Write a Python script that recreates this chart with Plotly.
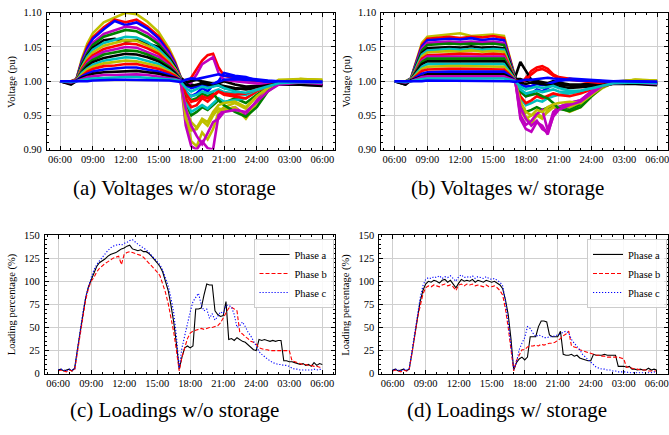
import plotly.graph_objects as go

W, H = 669, 435

# ---------------- data ----------------
tick_hours = [6, 9, 12, 15, 18, 21, 24, 27, 30]
tick_text = ["06:00", "09:00", "12:00", "15:00", "18:00", "21:00", "24:00", "03:00", "06:00"]

# voltage sample times (hours after midnight of day 1)
v_hours = [6, 7, 7.5, 8, 8.5, 9, 10, 11, 12, 13, 14, 15, 16, 16.5, 17,
           17.5, 18, 18.5, 19, 19.5, 20, 20.5, 21, 22, 23, 24, 25, 26, 28, 30]

# (a) voltages without storage (pu)
va01 = [1.000, 1.000, 1.003, 1.033, 1.055, 1.070, 1.086, 1.093, 1.100, 1.098, 1.087, 1.072, 1.047, 1.030, 1.008,
        0.950, 0.912, 0.905, 0.925, 0.915, 0.930, 0.955, 0.962, 0.968, 0.960, 0.978, 0.992, 1.002, 1.003, 1.001]
va02 = [1.000, 1.000, 1.003, 1.030, 1.051, 1.064, 1.079, 1.090, 1.086, 1.090, 1.080, 1.066, 1.043, 1.028, 1.007,
        0.995, 1.005, 1.018, 1.030, 1.038, 1.040, 1.020, 1.008, 1.004, 1.002, 1.000, 0.998, 0.999, 1.000, 0.998]
va03 = [1.000, 0.999, 1.003, 1.029, 1.048, 1.062, 1.076, 1.088, 1.082, 1.086, 1.077, 1.063, 1.041, 1.026, 1.007,
        0.985, 0.978, 0.982, 0.990, 0.985, 0.995, 1.000, 1.012, 1.008, 1.006, 1.001, 0.998, 0.999, 1.000, 0.999]
va04 = [1.000, 0.998, 1.002, 1.026, 1.044, 1.056, 1.069, 1.074, 1.080, 1.078, 1.070, 1.058, 1.038, 1.024, 1.006,
        0.935, 0.905, 0.900, 0.912, 0.902, 0.900, 0.950, 0.958, 0.962, 0.950, 0.972, 0.990, 0.995, 0.997, 0.995]
va05 = [1.000, 0.999, 1.002, 1.025, 1.041, 1.053, 1.065, 1.070, 1.075, 1.073, 1.065, 1.054, 1.035, 1.022, 1.006,
        0.965, 0.950, 0.955, 0.962, 0.958, 0.965, 0.972, 0.968, 0.975, 0.968, 0.980, 0.992, 0.998, 1.000, 0.999]
va06 = [1.000, 0.996, 1.002, 1.023, 1.038, 1.049, 1.060, 1.062, 1.058, 1.060, 1.055, 1.050, 1.033, 1.021, 1.005,
        1.000, 0.995, 0.993, 0.998, 0.995, 0.993, 0.997, 1.000, 0.995, 0.992, 0.993, 0.995, 0.996, 0.995, 0.993]
va07 = [1.000, 0.999, 1.002, 1.021, 1.036, 1.046, 1.056, 1.060, 1.065, 1.064, 1.057, 1.047, 1.031, 1.019, 1.005,
        0.970, 0.955, 0.960, 0.965, 0.960, 0.968, 0.975, 0.970, 0.972, 0.975, 0.985, 0.993, 0.997, 0.999, 0.998]
va08 = [1.000, 0.998, 1.002, 1.020, 1.033, 1.042, 1.052, 1.056, 1.060, 1.059, 1.052, 1.043, 1.028, 1.018, 1.005,
        0.945, 0.928, 0.930, 0.942, 0.935, 0.950, 0.960, 0.958, 0.962, 0.945, 0.968, 0.988, 0.998, 1.003, 1.002]
va09 = [1.000, 0.999, 1.002, 1.018, 1.030, 1.038, 1.047, 1.051, 1.055, 1.054, 1.048, 1.040, 1.026, 1.016, 1.004,
        0.975, 0.962, 0.965, 0.975, 0.970, 0.978, 0.985, 0.980, 0.978, 0.975, 0.985, 0.993, 0.997, 0.999, 0.998]
va10 = [1.000, 0.997, 1.001, 1.016, 1.027, 1.035, 1.043, 1.046, 1.050, 1.049, 1.043, 1.036, 1.023, 1.015, 1.004,
        0.990, 0.998, 1.010, 1.025, 1.030, 1.035, 1.012, 1.002, 1.000, 0.998, 0.996, 0.995, 0.996, 0.997, 0.996]
va11 = [1.000, 0.999, 1.001, 1.015, 1.025, 1.031, 1.039, 1.042, 1.045, 1.044, 1.039, 1.032, 1.021, 1.013, 1.004,
        0.980, 0.972, 0.975, 0.982, 0.978, 0.982, 0.972, 0.965, 0.955, 0.948, 0.962, 0.985, 0.997, 1.000, 0.999]
va12 = [1.000, 0.998, 1.001, 1.013, 1.022, 1.028, 1.034, 1.037, 1.040, 1.039, 1.035, 1.029, 1.019, 1.012, 1.003,
        0.998, 1.000, 1.002, 1.000, 0.998, 0.996, 0.995, 0.993, 0.990, 0.988, 0.990, 0.993, 0.995, 0.996, 0.994]
va13 = [1.000, 0.999, 1.001, 1.012, 1.019, 1.024, 1.030, 1.033, 1.035, 1.034, 1.030, 1.025, 1.016, 1.010, 1.003,
        0.985, 0.978, 0.980, 0.985, 0.982, 0.985, 0.988, 0.984, 0.982, 0.980, 0.987, 0.993, 0.997, 0.999, 0.998]
va14 = [1.000, 0.998, 1.001, 1.010, 1.017, 1.021, 1.026, 1.028, 1.030, 1.029, 1.026, 1.022, 1.014, 1.009, 1.002,
        0.960, 0.940, 0.932, 0.945, 0.940, 0.955, 0.965, 0.968, 0.970, 0.962, 0.978, 0.990, 0.998, 1.003, 1.002]
va15 = [1.000, 0.999, 1.001, 1.008, 1.014, 1.018, 1.022, 1.023, 1.025, 1.025, 1.022, 1.018, 1.012, 1.008, 1.002,
        0.982, 0.970, 0.972, 0.978, 0.975, 0.980, 0.985, 0.982, 0.980, 0.982, 0.988, 0.994, 0.997, 0.999, 0.998]
va16 = [1.000, 0.997, 1.001, 1.007, 1.011, 1.014, 1.017, 1.019, 1.020, 1.020, 1.017, 1.014, 1.009, 1.006, 1.002,
        0.995, 0.990, 0.992, 0.995, 0.993, 0.996, 0.998, 1.002, 1.003, 1.002, 1.000, 0.999, 0.999, 1.000, 0.999]
va17 = [1.000, 0.995, 1.000, 1.005, 1.008, 1.011, 1.013, 1.014, 1.015, 1.015, 1.013, 1.011, 1.007, 1.005, 1.001,
        0.995, 0.993, 0.995, 0.997, 0.995, 0.993, 0.994, 0.990, 0.988, 0.990, 0.993, 0.995, 0.996, 0.995, 0.994]
va18 = [1.000, 0.998, 1.000, 1.003, 1.006, 1.007, 1.009, 1.009, 1.010, 1.010, 1.009, 1.007, 1.005, 1.003, 1.001,
        0.960, 0.935, 0.920, 0.908, 0.925, 0.940, 0.945, 0.955, 0.958, 0.955, 0.970, 0.985, 0.995, 0.998, 0.996]
va19 = [1.000, 0.999, 1.000, 1.002, 1.003, 1.004, 1.005, 1.006, 1.006, 1.006, 1.005, 1.004, 1.003, 1.002, 1.000,
        0.990, 0.985, 0.988, 0.992, 0.990, 0.992, 0.994, 0.990, 0.985, 0.983, 0.988, 0.993, 0.997, 0.999, 0.998]
va20 = [1.000, 1.000, 0.999, 0.999, 1.000, 1.001, 1.002, 1.002, 1.002, 1.002, 1.002, 1.001, 1.001, 1.000, 0.999,
        1.002, 1.004, 1.003, 1.005, 1.006, 1.008, 1.010, 1.008, 1.006, 1.004, 1.002, 1.001, 1.000, 1.000, 0.999]

# (b) voltages with storage (pu)
vb01 = [1.000, 1.000, 1.004, 1.029, 1.056, 1.065, 1.067, 1.068, 1.070, 1.066, 1.067, 1.068, 1.066, 1.037, 1.007,
        0.965, 0.948, 0.938, 0.950, 0.945, 0.958, 0.962, 0.960, 0.962, 0.968, 0.982, 0.993, 0.999, 1.002, 1.000]
vb02 = [1.000, 0.999, 1.004, 1.027, 1.053, 1.062, 1.064, 1.065, 1.063, 1.065, 1.064, 1.066, 1.063, 1.036, 1.006,
        0.995, 1.005, 1.015, 1.020, 1.022, 1.018, 1.010, 1.006, 1.003, 1.001, 0.999, 0.998, 0.998, 0.999, 0.998]
vb03 = [1.000, 0.999, 1.004, 1.026, 1.051, 1.060, 1.061, 1.062, 1.061, 1.063, 1.060, 1.062, 1.060, 1.034, 1.006,
        0.985, 0.978, 0.982, 0.988, 0.985, 0.990, 0.995, 1.000, 1.004, 1.003, 1.001, 1.000, 1.000, 1.001, 0.999]
vb04 = [1.000, 0.998, 1.003, 1.024, 1.048, 1.056, 1.057, 1.058, 1.057, 1.058, 1.057, 1.058, 1.056, 1.032, 1.006,
        0.945, 0.930, 0.926, 0.940, 0.935, 0.922, 0.950, 0.962, 0.968, 0.972, 0.985, 0.995, 0.998, 0.999, 0.997]
vb05 = [1.000, 0.999, 1.003, 1.023, 1.045, 1.053, 1.054, 1.055, 1.054, 1.055, 1.054, 1.055, 1.053, 1.030, 1.005,
        0.968, 0.955, 0.958, 0.962, 0.958, 0.962, 0.965, 0.960, 0.958, 0.965, 0.980, 0.992, 0.997, 0.998, 0.997]
vb06 = [1.000, 0.995, 1.003, 1.021, 1.041, 1.048, 1.049, 1.050, 1.049, 1.051, 1.049, 1.050, 1.048, 1.028, 1.005,
        1.028, 1.015, 1.002, 0.998, 0.995, 0.997, 1.000, 0.998, 0.995, 0.995, 0.997, 0.998, 0.998, 0.999, 0.997]
vb07 = [1.000, 0.999, 1.003, 1.020, 1.039, 1.045, 1.046, 1.047, 1.046, 1.047, 1.046, 1.047, 1.046, 1.026, 1.005,
        0.975, 0.965, 0.968, 0.972, 0.970, 0.975, 0.978, 0.980, 0.982, 0.985, 0.990, 0.995, 0.998, 0.999, 0.999]
vb08 = [1.000, 0.998, 1.003, 1.018, 1.036, 1.042, 1.043, 1.044, 1.043, 1.045, 1.043, 1.044, 1.043, 1.024, 1.004,
        0.958, 0.945, 0.950, 0.952, 0.948, 0.955, 0.962, 0.962, 0.955, 0.962, 0.978, 0.990, 0.998, 1.002, 1.001]
vb09 = [1.000, 0.999, 1.002, 1.017, 1.033, 1.038, 1.039, 1.040, 1.040, 1.040, 1.039, 1.040, 1.039, 1.022, 1.004,
        0.978, 0.968, 0.972, 0.978, 0.975, 0.978, 0.982, 0.980, 0.978, 0.982, 0.988, 0.994, 0.997, 0.999, 0.998]
vb10 = [1.000, 0.997, 1.002, 1.016, 1.030, 1.036, 1.036, 1.037, 1.037, 1.037, 1.036, 1.037, 1.036, 1.020, 1.004,
        0.950, 0.936, 0.942, 0.952, 0.958, 0.928, 0.955, 0.962, 0.968, 0.972, 0.985, 0.995, 0.998, 0.999, 0.997]
vb11 = [1.000, 0.999, 1.002, 1.014, 1.028, 1.033, 1.033, 1.034, 1.034, 1.034, 1.033, 1.034, 1.033, 1.019, 1.003,
        0.985, 0.978, 0.980, 0.982, 0.978, 0.975, 0.968, 0.960, 0.956, 0.962, 0.978, 0.992, 0.997, 0.998, 0.997]
vb12 = [1.000, 0.998, 1.002, 1.013, 1.025, 1.029, 1.029, 1.030, 1.030, 1.030, 1.029, 1.030, 1.029, 1.017, 1.003,
        1.003, 1.000, 1.002, 1.000, 0.998, 0.997, 0.996, 0.995, 0.993, 0.992, 0.994, 0.996, 0.997, 0.997, 0.995]
vb13 = [1.000, 0.999, 1.002, 1.011, 1.021, 1.025, 1.025, 1.026, 1.026, 1.026, 1.025, 1.026, 1.025, 1.014, 1.003,
        0.988, 0.982, 0.984, 0.986, 0.984, 0.986, 0.988, 0.985, 0.984, 0.986, 0.990, 0.994, 0.997, 0.998, 0.997]
vb14 = [1.000, 0.998, 1.001, 1.009, 1.018, 1.021, 1.022, 1.022, 1.022, 1.022, 1.022, 1.022, 1.021, 1.012, 1.002,
        0.970, 0.955, 0.950, 0.958, 0.955, 0.962, 0.966, 0.968, 0.970, 0.968, 0.980, 0.992, 0.998, 1.002, 1.001]
vb15 = [1.000, 0.999, 1.001, 1.008, 1.015, 1.017, 1.018, 1.018, 1.018, 1.018, 1.018, 1.018, 1.017, 1.010, 1.002,
        0.998, 1.002, 1.010, 1.016, 1.018, 1.014, 1.008, 1.004, 1.002, 1.000, 0.998, 0.997, 0.998, 0.999, 0.998]
vb16 = [1.000, 0.997, 1.001, 1.006, 1.011, 1.013, 1.014, 1.014, 1.014, 1.014, 1.014, 1.014, 1.014, 1.008, 1.001,
        0.995, 0.992, 0.993, 0.996, 0.994, 0.996, 0.998, 1.001, 1.002, 1.001, 1.000, 0.999, 0.999, 1.000, 0.999]
vb17 = [1.000, 0.995, 1.001, 1.004, 1.008, 1.010, 1.010, 1.010, 1.010, 1.010, 1.010, 1.010, 1.010, 1.006, 1.001,
        0.998, 0.996, 0.998, 0.997, 0.995, 0.994, 0.993, 0.992, 0.990, 0.991, 0.993, 0.995, 0.996, 0.996, 0.994]
vb18 = [1.000, 0.998, 1.000, 1.003, 1.006, 1.007, 1.007, 1.007, 1.007, 1.007, 1.007, 1.007, 1.007, 1.004, 1.001,
        0.962, 0.945, 0.935, 0.942, 0.930, 0.925, 0.948, 0.958, 0.965, 0.970, 0.982, 0.993, 0.997, 0.998, 0.996]
vb19 = [1.000, 0.999, 1.000, 1.002, 1.003, 1.004, 1.004, 1.004, 1.004, 1.004, 1.004, 1.004, 1.004, 1.002, 1.000,
        0.992, 0.988, 0.990, 0.992, 0.990, 0.992, 0.993, 0.990, 0.986, 0.986, 0.990, 0.994, 0.997, 0.998, 0.997]
vb20 = [1.000, 1.000, 0.999, 0.999, 1.000, 1.001, 1.001, 1.001, 1.001, 1.001, 1.001, 1.001, 1.001, 1.000, 0.999,
        1.001, 1.002, 1.002, 1.003, 1.004, 1.005, 1.004, 1.003, 1.002, 1.001, 1.000, 1.000, 1.000, 1.000, 0.999]

v_colors = ["#bfbf00", "#ff0000", "#0000ff", "#bf00bf", "#008000", "#000000", "#00bfbf",
            "#bfbf00", "#ff0000", "#bf00bf", "#008000", "#000000", "#00bfbf", "#bfbf00",
            "#ff0000", "#0000ff", "#000000", "#bf00bf", "#00bfbf", "#0000ff"]

va_all = [va01, va02, va03, va04, va05, va06, va07, va08, va09, va10,
          va11, va12, va13, va14, va15, va16, va17, va18, va19, va20]
vb_all = [vb01, vb02, vb03, vb04, vb05, vb06, vb07, vb08, vb09, vb10,
          vb11, vb12, vb13, vb14, vb15, vb16, vb17, vb18, vb19, vb20]

# loading sample times: every 15 minutes from 06:00 to 06:00 next day
ld_hours = [6 + 0.25 * i for i in range(97)]

# (c) loadings without storage (%)
load_c_a = [4, 5, 3, 4, 5, 3, 6, 26, 46, 66, 82, 94, 102, 110, 116, 120,
            122, 124, 127, 129, 130, 131, 133, 135, 136, 138, 139, 135, 134, 133, 134, 132,
            132, 130, 127, 124, 120, 116, 110, 100, 90, 74, 56, 32, 5, 18, 28, 30,
            28, 30, 70, 70, 71, 85, 97, 96, 96, 68, 64, 62, 63, 78, 37, 38,
            36, 39, 37, 35, 34, 31, 28, 26, 25, 37, 36, 37, 36, 35, 36, 35,
            36, 36, 14, 14, 13, 13, 12, 11, 10, 11, 9, 10, 8, 12, 9, 11, 10]
load_c_b = [3, 4, 3, 2, 4, 3, 4, 24, 44, 64, 80, 92, 100, 104, 110, 114,
            117, 119, 121, 123, 125, 126, 127, 118, 129, 131, 132, 131, 130, 129, 128, 126,
            123, 120, 116, 113, 110, 106, 98, 88, 76, 62, 45, 25, 3, 18, 28, 38,
            44, 46, 47, 48, 49, 48, 49, 50, 50, 51, 52, 55, 60, 65, 71, 72,
            70, 68, 45, 43, 40, 38, 35, 34, 32, 28, 27, 26, 26, 25, 25, 25,
            25, 25, 25, 25, 25, 14, 13, 12, 11, 10, 10, 9, 9, 8, 8, 7, 7]
load_c_c = [4, 5, 4, 3, 5, 4, 5, 26, 47, 67, 83, 95, 104, 112, 118, 122,
            126, 130, 133, 136, 138, 139, 140, 139, 141, 142, 144, 145, 142, 140, 138, 136,
            134, 131, 128, 125, 122, 118, 112, 104, 95, 82, 66, 40, 6, 28, 42, 55,
            67, 78, 83, 87, 75, 68, 70, 60, 65, 58, 62, 67, 65, 74, 74, 72,
            64, 50, 52, 56, 51, 45, 41, 35, 30, 24, 21, 18, 16, 14, 12, 11,
            10, 10, 9, 9, 8, 6, 5, 5, 4, 4, 4, 4, 4, 5, 4, 5, 4]

# (d) loadings with storage (%)
load_d_a = [4, 5, 3, 4, 5, 3, 5, 22, 42, 62, 78, 90, 97, 100, 99, 101,
            100, 98, 101, 102, 99, 101, 97, 93, 98, 102, 100, 101, 100, 102, 99, 101,
            100, 99, 101, 100, 99, 100, 98, 96, 92, 80, 64, 38, 4, 12, 16, 18,
            15, 18, 40, 40, 40, 51, 57, 57, 56, 42, 40, 40, 40, 46, 21, 20,
            20, 21, 19, 20, 17, 16, 15, 14, 14, 21, 20, 20, 20, 21, 20, 20,
            20, 20, 8, 8, 8, 7, 8, 5, 5, 4, 5, 4, 4, 6, 4, 5, 4]
load_d_b = [3, 4, 3, 2, 4, 3, 4, 20, 40, 60, 75, 86, 93, 95, 94, 96,
            95, 94, 96, 97, 95, 96, 94, 90, 96, 97, 95, 97, 96, 97, 95, 96,
            95, 94, 96, 94, 94, 95, 93, 90, 85, 70, 50, 28, 3, 14, 20, 26,
            26, 29, 30, 30, 31, 30, 32, 31, 32, 33, 33, 34, 36, 38, 41, 43,
            46, 30, 29, 28, 26, 25, 24, 23, 22, 21, 20, 20, 19, 19, 18, 18,
            18, 18, 18, 17, 16, 7, 7, 6, 5, 5, 4, 4, 4, 3, 3, 3, 3]
load_d_c = [4, 5, 4, 3, 5, 4, 5, 24, 45, 66, 82, 95, 102, 104, 103, 105,
            104, 106, 103, 105, 104, 106, 103, 100, 105, 107, 104, 105, 104, 106, 103, 105,
            104, 103, 105, 103, 102, 103, 101, 99, 95, 78, 56, 32, 5, 12, 26, 33,
            39, 51, 49, 44, 40, 42, 41, 39, 39, 40, 40, 41, 42, 43, 45, 46,
            44, 37, 33, 30, 26, 21, 18, 15, 12, 9, 7, 6, 5, 5, 4, 4,
            3, 3, 2, 2, 2, 2, 1, 1, 1, 1, 1, 1, 1, 1, 1, 2, 1]

phase_names = ["Phase a", "Phase b", "Phase c"]
phase_colors = ["#000000", "#ff0000", "#0000ff"]
phase_dash = ["solid", "4px,2px", "1.2px,1.8px"]

# ---------------- figure ----------------
def px_x(p):
    return p / W

def px_y(p):
    return 1 - p / H

fig = go.Figure()

for i, vals in enumerate(va_all):
    fig.add_trace(go.Scatter(x=v_hours, y=vals, mode="lines", xaxis="x", yaxis="y",
                             line=dict(color=v_colors[i], width=2.6), showlegend=False,
                             hoverinfo="skip"))
for i, vals in enumerate(vb_all):
    fig.add_trace(go.Scatter(x=v_hours, y=vals, mode="lines", xaxis="x2", yaxis="y2",
                             line=dict(color=v_colors[i], width=2.6), showlegend=False,
                             hoverinfo="skip"))

for i, vals in enumerate([load_c_a, load_c_b, load_c_c]):
    fig.add_trace(go.Scatter(x=ld_hours, y=vals, mode="lines", xaxis="x3", yaxis="y3",
                             name=phase_names[i], legend="legend",
                             line=dict(color=phase_colors[i], width=1.1, dash=phase_dash[i])))
for i, vals in enumerate([load_d_a, load_d_b, load_d_c]):
    fig.add_trace(go.Scatter(x=ld_hours, y=vals, mode="lines", xaxis="x4", yaxis="y4",
                             name=phase_names[i], legend="legend2",
                             line=dict(color=phase_colors[i], width=1.1, dash=phase_dash[i])))

font_family = "Liberation Serif"
tick_font = dict(family=font_family, size=10.5, color="black")

def xaxis(domain, rng, anchor):
    return dict(domain=domain, range=rng, anchor=anchor,
                tickmode="array", tickvals=tick_hours, ticktext=tick_text,
                ticks="inside", ticklen=4, tickcolor="black", tickwidth=0.8,
                minor=dict(ticks="inside", ticklen=2, tickcolor="black", dtick=1, tick0=0, showgrid=False),
                showline=True, linecolor="black", linewidth=1, mirror="allticks",
                showgrid=True, gridcolor="#cfcfcf", gridwidth=1, zeroline=False,
                tickfont=tick_font, ticklabeloverflow="allow", fixedrange=True)

def yaxis(domain, rng, anchor, dtick, minor_dtick, fmt):
    return dict(domain=domain, range=rng, anchor=anchor,
                tickmode="linear", tick0=rng[0], dtick=dtick, tickformat=fmt,
                ticks="inside", ticklen=4, tickcolor="black", tickwidth=0.8,
                minor=dict(ticks="inside", ticklen=2, tickcolor="black", dtick=minor_dtick, showgrid=False),
                showline=True, linecolor="black", linewidth=1, mirror="allticks",
                showgrid=True, gridcolor="#cfcfcf", gridwidth=1, zeroline=False,
                tickfont=tick_font, ticklabelstandoff=2, fixedrange=True)

top_dom = [px_y(148.3), px_y(8)]
bot_dom = [px_y(378.3), px_y(236)]

legend_common = dict(font=dict(family=font_family, size=10.5, color="black"),
                     bgcolor="rgba(255,255,255,0.85)", bordercolor="#cccccc", borderwidth=1,
                     xanchor="right", yanchor="top", itemwidth=30, tracegroupgap=0)

fig.update_layout(
    width=W, height=H, margin=dict(l=0, r=0, t=0, b=0),
    paper_bgcolor="white", plot_bgcolor="white",
    font=dict(family=font_family, size=10, color="black"),
    xaxis=xaxis([px_x(47), px_x(336)], [4.8, 31.2], "y"),
    yaxis=yaxis(top_dom, [0.90, 1.10], "x", 0.05, 0.01, ".2f"),
    xaxis2=xaxis([px_x(382), 1.0], [4.8, 30.99], "y2"),
    yaxis2=yaxis(top_dom, [0.90, 1.10], "x2", 0.05, 0.01, ".2f"),
    xaxis3=xaxis([px_x(45), px_x(336)], [4.8, 31.2], "y3"),
    yaxis3=yaxis(bot_dom, [0, 150], "x3", 25, 5, "d"),
    xaxis4=xaxis([px_x(380), 1.0], [4.8, 31.02], "y4"),
    yaxis4=yaxis(bot_dom, [0, 150], "x4", 25, 5, "d"),
    legend=dict(x=px_x(334), y=px_y(240), **legend_common),
    legend2=dict(x=px_x(668), y=px_y(240), **legend_common),
    showlegend=True,
)

annots = [
    dict(text="Voltage (pu)", x=px_x(12), y=px_y(78), textangle=-90),
    dict(text="Voltage (pu)", x=px_x(348), y=px_y(78), textangle=-90),
    dict(text="Loading percentage (%)", x=px_x(12), y=px_y(307), textangle=-90),
    dict(text="Loading percentage (%)", x=px_x(347), y=px_y(307), textangle=-90),
]
for a in annots:
    fig.add_annotation(xref="paper", yref="paper", showarrow=False,
                       xanchor="center", yanchor="middle",
                       font=dict(family=font_family, size=10.5, color="black"), **a)

captions = [
    ("(a) Voltages w/o storage", 175, 188),
    ("(b) Voltages w/ storage", 508, 188),
    ("(c) Loadings w/o storage", 175, 416),
    ("(d) Loadings w/ storage", 508, 416),
]
for txt, cx, cy in captions:
    fig.add_annotation(xref="paper", yref="paper", showarrow=False,
                       x=px_x(cx), y=px_y(cy), xanchor="center", yanchor="middle",
                       text=txt, font=dict(family=font_family, size=21, color="black"))

fig.write_html("out.html")
